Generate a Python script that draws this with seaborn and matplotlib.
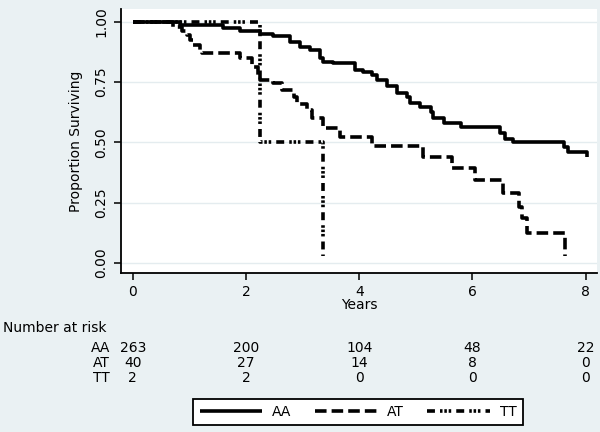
import matplotlib
matplotlib.use("Agg")
import matplotlib.pyplot as plt
import matplotlib.transforms as mtransforms
import numpy as np
import pandas as pd
import seaborn as sns

# Kaplan-Meier step points (time in years, survival)
aa_time = [0, 0.84, 1.6, 1.9, 2.25, 2.48, 2.78, 2.96, 3.13, 3.31, 3.36, 3.54,
           3.93, 4.07, 4.22, 4.32, 4.49, 4.67, 4.84, 4.90, 5.08, 5.26, 5.31,
           5.49, 5.79, 6.49, 6.58, 6.72, 7.61, 7.69, 8.03]
aa_surv = [1.0, 0.986, 0.973, 0.96, 0.95, 0.94, 0.917, 0.896, 0.883, 0.848,
           0.834, 0.827, 0.80, 0.79, 0.78, 0.758, 0.733, 0.706, 0.689, 0.661,
           0.647, 0.627, 0.599, 0.581, 0.564, 0.537, 0.513, 0.50, 0.48, 0.46,
           0.44]

at_time = [0, 0.71, 0.87, 0.95, 1.01, 1.07, 1.19, 1.22, 1.9, 2.1, 2.22, 2.25,
           2.48, 2.63, 2.84, 2.9, 3.08, 3.16, 3.36, 3.66, 4.22, 5.13, 5.64,
           6.05, 6.54, 6.82, 6.88, 6.97, 7.64]
at_surv = [1.0, 0.98, 0.96, 0.945, 0.924, 0.903, 0.883, 0.869, 0.848, 0.813,
           0.779, 0.758, 0.744, 0.717, 0.689, 0.66, 0.633, 0.599, 0.558, 0.523,
           0.484, 0.44, 0.392, 0.343, 0.29, 0.232, 0.184, 0.122, 0.03]

tt_time = [0, 2.25, 3.36]
tt_surv = [1.0, 0.5, 0.03]

groups = ["AA", "AT", "TT"]
risk_times = [0, 2, 4, 6, 8]
risk_counts = {
    "AA": [263, 200, 104, 48, 22],
    "AT": [40, 27, 14, 8, 0],
    "TT": [2, 2, 0, 0, 0],
}

BG = "#eaf1f3"
FS = 10

sns.set_style("ticks")
plt.rcParams["font.family"] = ["DejaVu Sans"]
plt.rcParams["text.color"] = "black"
plt.rcParams["axes.labelcolor"] = "black"
plt.rcParams["xtick.color"] = "black"
plt.rcParams["ytick.color"] = "black"

fig = plt.figure(figsize=(6, 4.32), dpi=100, facecolor=BG)
ax = fig.add_axes([121 / 600, 1 - 272.7 / 432, 476 / 600, 263.7 / 432])
ax.set_facecolor("white")

curves = [(aa_time, aa_surv), (at_time, at_surv), (tt_time, tt_surv)]
dash_styles = [None, (3.2, 1.4), (2.2, 1.4, 0.7, 0.5, 0.7, 0.5, 0.7, 1.4)]
handles = []
for name, (t, s), dash in zip(groups, curves, dash_styles):
    df = pd.DataFrame({"time": t, "surv": s})
    sns.lineplot(data=df, x="time", y="surv", ax=ax, estimator=None, sort=False,
                 drawstyle="steps-post", color="black", linewidth=2.6,
                 label=name)
    line = ax.lines[-1]
    line.set_solid_capstyle("butt")
    line.set_dash_capstyle("butt")
    if dash is not None:
        line.set_dashes(dash)
    handles.append(line)

ax.get_legend().remove()

ax.set_xlim(-0.207, 8.2)
ax.set_ylim(-0.041, 1.053)
ax.set_xticks([0, 2, 4, 6, 8])
ax.set_yticks([0, 0.25, 0.5, 0.75, 1.0])
ax.set_yticklabels(["0.00", "0.25", "0.50", "0.75", "1.00"], rotation=90,
                   va="center")
ax.tick_params(axis="both", labelsize=FS, length=5, width=1.1, color="black",
               labelcolor="black", pad=4)
ax.yaxis.grid(True, color="#e4ecef", linewidth=1.0)
ax.set_axisbelow(True)
for side in ["top", "right"]:
    ax.spines[side].set_visible(False)
for side in ["left", "bottom"]:
    ax.spines[side].set_linewidth(1.3)
    ax.spines[side].set_color("black")

ax.set_xlabel("Years", fontsize=FS, labelpad=-1)
ax.set_ylabel("Proportion Surviving", fontsize=FS, labelpad=8)

# number at risk table
trans = mtransforms.blended_transform_factory(ax.transData, fig.transFigure)
fig.text(3 / 600, 1 - 328 / 432, "Number at risk", fontsize=FS,
         ha="left", va="center")
row_y = [348, 363, 378]
for name, y in zip(groups, row_y):
    fig.text(110 / 600, 1 - y / 432, name, fontsize=FS, ha="right", va="center")
    for t, n in zip(risk_times, risk_counts[name]):
        ax.text(t, 1 - y / 432, str(n), transform=trans, fontsize=FS,
                ha="center", va="center", clip_on=False)

leg = fig.legend(handles=handles, labels=groups, loc="center", ncol=3,
                 bbox_to_anchor=(358 / 600, 1 - 412 / 432), fontsize=FS,
                 frameon=True, fancybox=False, handlelength=4.5,
                 handletextpad=0.7, columnspacing=1.7, borderpad=0.45)
leg.get_frame().set_edgecolor("black")
leg.get_frame().set_linewidth(1.3)
leg.get_frame().set_facecolor("white")
leg.get_frame().set_alpha(1)

fig.savefig("out.png", dpi=100, facecolor=BG)
